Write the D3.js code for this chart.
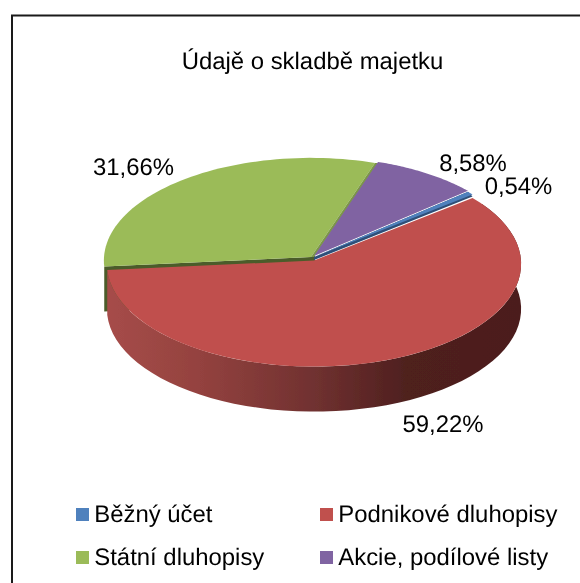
<!DOCTYPE html>
<html><head><meta charset="utf-8">
<script src="https://cdn.jsdelivr.net/npm/d3@7/dist/d3.min.js"></script>
<style>html,body{margin:0;padding:0;background:#fff;overflow:hidden}svg{display:block}text{font-family:"Liberation Sans",Arial,sans-serif;fill:#000;text-rendering:geometricPrecision}</style>
</head><body><svg id="c" width="580" height="583"></svg>
<script>
const chartTitle = "Údajě o skladbě majetku";
const categories = ["Běžný účet", "Podnikové dluhopisy", "Státní dluhopisy", "Akcie, podílové listy"];
const shares = [0.54, 59.22, 31.66, 8.58];
const valueLabels = ["0,54%", "59,22%", "31,66%", "8,58%"];
const colours = ["#4F81BD", "#C0504D", "#9BBB59", "#8064A2"];
const labelAt = [[518.5,194],[443,432],[133.5,175],[473,170.5]];
const legendAt = [[76,508],[320,508],[76,551],[320,551]];
const explode = [[3,0],[3,3.5],[0,0],[3,-1]];

const svg = d3.select("#c");
const defs = svg.append("defs");
const grad = defs.append("linearGradient").attr("id","wall").attr("gradientUnits","userSpaceOnUse")
  .attr("x1",108).attr("x2",521).attr("y1",0).attr("y2",0);
[[0,"#a64c49"],[0.22,"#94423f"],[0.5,"#703130"],[0.72,"#4f201f"],[1,"#4c1e1d"]].forEach(s=>grad.append("stop").attr("offset",s[0]).attr("stop-color",s[1]));
defs.append("filter").attr("id","soft").append("feGaussianBlur").attr("stdDeviation",0.35);

const root = svg.append("g");
root.append("path").attr("d","M12,583V15.5H580").attr("fill","none").attr("stroke","#1a1a1a").attr("stroke-width",2);
const labels = root.append("g").attr("filter","url(#soft)");
labels.append("text").attr("x",312.5).attr("y",69).attr("text-anchor","middle").attr("font-size",23.9).text(chartTitle);

const cx=311, cy=257, rx=207, ry=102.5, k=0.034, depth=45;
const pie = d3.pie().sort(null).value(d=>d).startAngle(49.5*Math.PI/180).endAngle(409.5*Math.PI/180);
const arcs = pie(shares);
const project = (a,r=1,off=[0,0],dz=0)=>{
  const u=Math.sin(a)*r, v=-Math.cos(a)*r, s=1/(1-k*v);
  return [cx+off[0]+rx*u*s, cy+off[1]+ry*v*s+dz];
};
const apex=(off,dz=0)=>project(0,0,off,dz);
const rimAngles=(a0,a1)=>d3.range(0,61).map(i=>a0+(a1-a0)*i/60);
const line=d3.line();
const topPath=(a,off)=>line([apex(off),...rimAngles(a.startAngle,a.endAngle).map(t=>project(t,1,off))])+"Z";
const wallPath=(a0,a1,off)=>{
  const ts=rimAngles(a0,a1);
  return line([...ts.map(t=>project(t,1,off)),...ts.slice().reverse().map(t=>project(t,1,off,depth))])+"Z";
};
const chart = root.append("g").attr("filter","url(#soft)");

// green slice: cut face and wall behind the red slice
const g=arcs[2], go=explode[2], ge=project(g.startAngle,1,go);
chart.append("path").attr("fill","#4b5c2a").attr("d",line([apex([go[0]+4,go[1]-1]),apex(go),ge,project(g.startAngle,1,go,depth),apex([go[0]+4,go[1]],depth)])+"Z");
chart.append("path").attr("fill",colours[2]).attr("d",topPath(g,go));
// green inner edge beside purple
chart.append("path").attr("fill","#7c9747").attr("d",line([apex(go),project(g.endAngle,1,go),project(g.endAngle,1,[go[0]+4,go[1]]),apex([go[0]+3,go[1]])])+"Z");
// purple slice
const p=arcs[3], po=explode[3];
chart.append("path").attr("fill",colours[3]).attr("d",topPath(p,po));
// blue slice
const b=arcs[0], bo=explode[0];
chart.append("path").attr("fill","#2f4f78").attr("d",line([apex(bo),project(b.startAngle,1,bo),project(b.endAngle,1,[bo[0],bo[1]+2]),apex([bo[0],bo[1]+3])])+"Z");
chart.append("path").attr("fill",colours[0]).attr("d",topPath(b,bo));
// red slice
const r=arcs[1], ro=explode[1];
chart.append("path").attr("fill","url(#wall)").attr("d",wallPath(Math.PI/2*0.62,r.endAngle,ro));
chart.append("path").attr("fill",colours[1]).attr("d",topPath(r,ro));

valueLabels.forEach((t,i)=>labels.append("text").attr("x",labelAt[i][0]).attr("y",labelAt[i][1]).attr("text-anchor","middle").attr("font-size",23.9).text(t));
categories.forEach((t,i)=>{
  root.append("rect").attr("x",legendAt[i][0]).attr("y",legendAt[i][1]).attr("width",13).attr("height",13).attr("fill",colours[i]);
  labels.append("text").attr("x",legendAt[i][0]+18.3).attr("y",legendAt[i][1]+14.2).attr("font-size",23.9).text(t);
});
</script></body></html>
